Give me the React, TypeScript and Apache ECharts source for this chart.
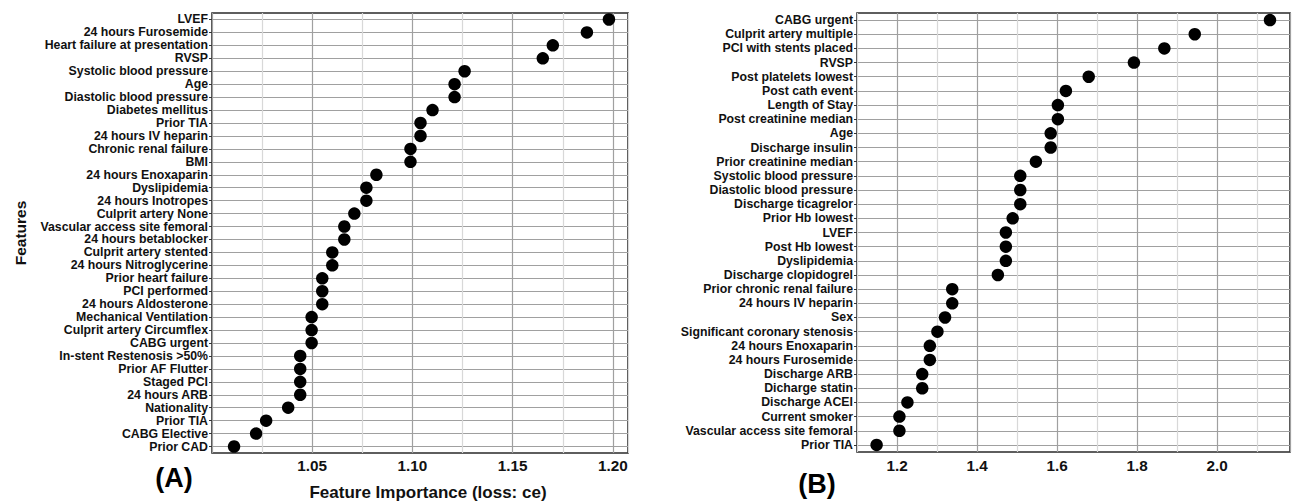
import React, { useEffect, useRef } from "react";
import * as echarts from "echarts";

const featuresA = [
  "LVEF", "24 hours Furosemide", "Heart failure at presentation", "RVSP",
  "Systolic blood pressure", "Age", "Diastolic blood pressure", "Diabetes mellitus",
  "Prior TIA", "24 hours IV heparin", "Chronic renal failure", "BMI",
  "24 hours Enoxaparin", "Dyslipidemia", "24 hours Inotropes", "Culprit artery None",
  "Vascular access site femoral", "24 hours betablocker", "Culprit artery stented",
  "24 hours Nitroglycerine", "Prior heart failure", "PCI performed", "24 hours Aldosterone",
  "Mechanical Ventilation", "Culprit artery Circumflex", "CABG urgent",
  "In-stent Restenosis >50%", "Prior AF Flutter", "Staged PCI", "24 hours ARB",
  "Nationality", "Prior TIA", "CABG Elective", "Prior CAD",
];
const valuesA = [
  1.198, 1.187, 1.170, 1.165, 1.126, 1.121, 1.121, 1.110, 1.104, 1.104, 1.099, 1.099,
  1.082, 1.077, 1.077, 1.071, 1.066, 1.066, 1.060, 1.060, 1.055, 1.055, 1.055,
  1.0497, 1.0497, 1.0497, 1.044, 1.044, 1.044, 1.044, 1.038, 1.027, 1.022, 1.011,
];

const featuresB = [
  "CABG urgent", "Culprit artery multiple", "PCI with stents placed", "RVSP",
  "Post platelets lowest", "Post cath event", "Length of Stay", "Post creatinine median",
  "Age", "Discharge insulin", "Prior creatinine median", "Systolic blood pressure",
  "Diastolic blood pressure", "Discharge ticagrelor", "Prior Hb lowest", "LVEF",
  "Post Hb lowest", "Dyslipidemia", "Discharge clopidogrel", "Prior chronic renal failure",
  "24 hours IV heparin", "Sex", "Significant coronary stenosis", "24 hours Enoxaparin",
  "24 hours Furosemide", "Discharge ARB", "Dicharge statin", "Discharge ACEI",
  "Current smoker", "Vascular access site femoral", "Prior TIA",
];
const valuesB = [
  2.132, 1.944, 1.868, 1.792, 1.679, 1.622, 1.602, 1.602, 1.584, 1.584, 1.547, 1.508,
  1.508, 1.508, 1.489, 1.472, 1.472, 1.472, 1.452, 1.338, 1.338, 1.320, 1.301, 1.282,
  1.282, 1.263, 1.263, 1.226, 1.206, 1.206, 1.149,
];

const xTicksA = [1.05, 1.1, 1.15, 1.2];
const xTicksB = [1.2, 1.4, 1.6, 1.8, 2.0];

const FONT = "'Liberation Sans', Arial, sans-serif";
const MAJOR = "#a0a0a0";
const MINOR = "#d8d8d8";

function near(list: number[], v: number) {
  return list.some((t) => Math.abs(t - v) < 1e-6);
}

export default function App() {
  const ref = useRef<HTMLDivElement>(null);
  useEffect(() => {
    if (!ref.current) return;
    const chart = echarts.init(ref.current, null, { renderer: "svg" });
    const yAxisCommon = (cats: string[], gridIndex: number) => ({
      type: "category",
      gridIndex,
      data: cats,
      inverse: true,
      boundaryGap: true,
      axisLine: { show: false },
      axisTick: { show: true, alignWithLabel: true, length: 3, lineStyle: { color: "#333", width: 1 } },
      axisLabel: {
        interval: 0,
        margin: 4,
        color: "#111",
        fontFamily: FONT,
        fontWeight: "bold",
        fontSize: 12.3,
      },
      splitLine: { show: true, alignWithLabel: true, interval: 0, lineStyle: { color: MAJOR, width: 1.2 } },
    });
    const option: any = {
      animation: false,
      backgroundColor: "#ffffff",
      grid: [
        { left: 212, top: 13, width: 416, height: 440, show: true, borderColor: "#2a2a2a", borderWidth: 1.6, backgroundColor: "transparent", outerBoundsMode: "none" },
        { left: 857, top: 13, width: 433, height: 439, show: true, borderColor: "#2a2a2a", borderWidth: 1.6, backgroundColor: "transparent", outerBoundsMode: "none" },
      ],
      xAxis: [
        {
          type: "value",
          gridIndex: 0,
          min: 1.0,
          max: 1.2075,
          interval: 0.025,
          axisLine: { show: false },
          axisTick: { show: false },
          axisLabel: {
            margin: 5,
            color: "#111",
            fontFamily: FONT,
            fontWeight: "bold",
            fontSize: 15.3,
            formatter: (v: number) => (near(xTicksA, v) ? v.toFixed(2) : ""),
          },
          splitLine: { show: true, lineStyle: { color: [MAJOR, MINOR], width: 1.2 } },
        },
        {
          type: "value",
          gridIndex: 1,
          min: 1.1,
          max: 2.182,
          interval: 0.1,
          axisLine: { show: false },
          axisTick: { show: false },
          axisLabel: {
            margin: 6,
            color: "#111",
            fontFamily: FONT,
            fontWeight: "bold",
            fontSize: 15.3,
            formatter: (v: number) => (near(xTicksB, v) ? v.toFixed(1) : ""),
          },
          splitLine: { show: true, lineStyle: { color: [MINOR, MAJOR], width: 1.2 } },
        },
      ],
      yAxis: [yAxisCommon(featuresA, 0), yAxisCommon(featuresB, 1)],
      series: [
        {
          type: "scatter",
          xAxisIndex: 0,
          yAxisIndex: 0,
          symbolSize: 12.5,
          itemStyle: { color: "#000", opacity: 1 },
          data: valuesA.map((v, i) => [v, i]),
          z: 5,
        },
        {
          type: "scatter",
          xAxisIndex: 1,
          yAxisIndex: 1,
          symbolSize: 12.5,
          itemStyle: { color: "#000", opacity: 1 },
          data: valuesB.map((v, i) => [v, i]),
          z: 5,
        },
      ],
      graphic: [
        {
          type: "text",
          x: 20,
          y: 233,
          rotation: Math.PI / 2,
          style: { text: "Features", fontFamily: FONT, fontWeight: "bold", fontSize: 15.5, fill: "#111", textAlign: "center", textVerticalAlign: "middle" },
        },
        {
          type: "text",
          x: 428,
          y: 492,
          style: { text: "Feature Importance (loss: ce)", fontFamily: FONT, fontWeight: "bold", fontSize: 17, fill: "#111", textAlign: "center", textVerticalAlign: "middle" },
        },
        {
          type: "text",
          x: 174,
          y: 478,
          style: { text: "(A)", fontFamily: FONT, fontWeight: "bold", fontSize: 27, fill: "#000", textAlign: "center", textVerticalAlign: "middle" },
        },
        {
          type: "text",
          x: 817,
          y: 484,
          style: { text: "(B)", fontFamily: FONT, fontWeight: "bold", fontSize: 27, fill: "#000", textAlign: "center", textVerticalAlign: "middle" },
        },
      ],
    };
    chart.setOption(option);
    return () => chart.dispose();
  }, []);
  return (
    <div
      ref={ref}
      style={{ position: "absolute", left: 0, top: 0, width: 1293, height: 502, background: "#fff" }}
    />
  );
}
